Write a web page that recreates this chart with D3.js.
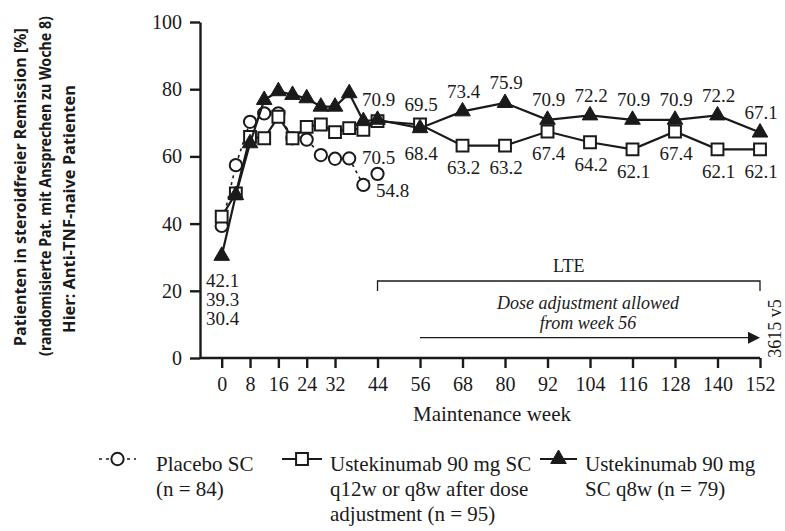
<!DOCTYPE html>
<html>
<head>
<meta charset="utf-8">
<script src="https://cdn.jsdelivr.net/npm/d3@7/dist/d3.min.js"></script>
<style>
  body { margin: 0; background: #fff; }
  svg text { font-family: "Liberation Serif", "Times New Roman", serif; fill: #1a1a1a; }
</style>
</head>
<body>
<div id="wrapper"></div>
<script>
// maintenance weeks and % in steroid-free remission
const weeks = [0, 4, 8, 12, 16, 20, 24, 28, 32, 36, 40, 44, 56, 68, 80, 92, 104, 116, 128, 140, 152]
const placebo = [39.3, 57.4, 70.3, 72.8, 72.8, 65.4, 65.0, 60.4, 59.3, 59.4, 51.5, 54.8]
const q12w = [42.1, 49.0, 65.8, 65.4, 71.8, 65.4, 68.8, 69.5, 67.2, 68.4, 67.9, 70.5, 69.5, 63.2, 63.2, 67.4, 64.2, 62.1, 67.4, 62.1, 62.1]
const q8w = [30.4, 48.5, 63.9, 76.8, 79.4, 78.3, 77.3, 74.8, 74.8, 78.8, 70.5, 70.9, 68.4, 73.4, 75.9, 70.9, 72.2, 70.9, 70.9, 72.2, 67.1]

const xTicks = [0, 8, 16, 24, 32, 44, 56, 68, 80, 92, 104, 116, 128, 140, 152]
const yTicks = [0, 20, 40, 60, 80, 100]
const labelWeeks = [44, 56, 68, 80, 92, 104, 116, 128, 140, 152]
const placeboLabelWeeks = [44]

const xTitle = "Maintenance week"
const yTitle = [
    "Patienten in steroidfreier Remission [%]",
    "(randomisierte Pat. mit Ansprechen zu Woche 8)",
    "Hier: Anti-TNF-naive Patienten"]
const legendLabels = [
    ["Placebo SC", "(n = 84)"],
    ["Ustekinumab 90 mg SC", "q12w or q8w after dose", "adjustment (n = 95)"],
    ["Ustekinumab 90 mg", "SC q8w (n = 79)"]]
const lteWeeks = [44, 152]
const doseWeeks = [56, 152]
const lteLabel = "LTE"
const doseNote = ["Dose adjustment allowed", "from week 56"]
const docCode = "3615 v5"

function drawChart() {
    let dimensions = {
        width: 785,
        height: 531,
        margin: { top: 22, right: 25, bottom: 173, left: 200 },
        padLeft: 21.7,
    }
    dimensions.boundedWidth = dimensions.width - dimensions.margin.left - dimensions.margin.right
    dimensions.boundedHeight = dimensions.height - dimensions.margin.top - dimensions.margin.bottom

    const ink = "#1a1a1a"
    const wrapper = d3.select("#wrapper")
        .append("svg")
            .attr("width", dimensions.width)
            .attr("height", dimensions.height)
    const bounds = wrapper.append("g")
        .attr("transform", `translate(${dimensions.margin.left},${dimensions.margin.top})`)

    const xScale = d3.scaleLinear()
        .domain([0, 152])
        .range([dimensions.padLeft, dimensions.padLeft + 538.3])
    const yScale = d3.scaleLinear()
        .domain([0, 100])
        .range([dimensions.boundedHeight, 0])

    // axes
    const yAxis = bounds.append("g")
        .call(d3.axisLeft(yScale).tickValues(yTicks).tickSize(10).tickSizeOuter(0).tickPadding(8))
    const xAxis = bounds.append("g")
        .attr("transform", `translate(0,${dimensions.boundedHeight})`)
        .call(d3.axisBottom(xScale).tickValues(xTicks).tickSize(10).tickSizeOuter(0).tickPadding(9))
    xAxis.select(".domain").attr("d", `M0,0H${xScale(152)}`)
    ;[xAxis, yAxis].forEach(ax => {
        ax.selectAll("path, line").attr("stroke", ink).attr("stroke-width", 2.4)
        ax.selectAll("text").attr("font-size", 20).attr("fill", ink)
            .style("font-family", "'Liberation Serif', serif")
    })

    bounds.append("text")
        .attr("x", 292)
        .attr("y", 399)
        .attr("text-anchor", "middle")
        .attr("font-size", 21)
        .text(xTitle)

    // y title, three bold sans lines, squeezed to the narrow original face
    const yTitlePos = [
        { x: 26, y: 187, len: 318 },
        { x: 51, y: 186, len: 340 },
        { x: 75, y: 209, len: 248 }]
    yTitle.forEach((t, i) => {
        const p = yTitlePos[i]
        const txt = wrapper.append("text")
            .attr("text-anchor", "middle")
            .style("font-family", "'Noto Sans', 'Open Sans', sans-serif")
            .attr("font-weight", "bold")
            .attr("font-size", 16)
            .text(t)
        const w = txt.node().getComputedTextLength()
        txt.attr("transform", `translate(${p.x},${p.y}) rotate(-90) scale(${p.len / w},1)`)
    })

    // series
    const series = [
        { key: "placebo", values: placebo, symbol: d3.symbolCircle, size: 118, fill: "#fff", dash: "3,4", width: 1.6 },
        { key: "q12w", values: q12w, symbol: d3.symbolSquare, size: 140, fill: "#fff", dash: null, width: 2.2 },
        { key: "q8w", values: q8w, symbol: d3.symbolTriangle, size: 105, fill: ink, dash: null, width: 2.2 },
    ]
    const lineGenerator = d3.line()
        .x(d => xScale(d.week))
        .y(d => yScale(d.value))

    series.forEach(s => {
        const pts = s.values.map((v, i) => ({ week: weeks[i], value: v }))
        const g = bounds.append("g")
        g.append("path")
            .attr("d", lineGenerator(pts))
            .attr("fill", "none")
            .attr("stroke", ink)
            .attr("stroke-width", s.width)
            .attr("stroke-dasharray", s.dash)
        g.selectAll(".mark")
            .data(pts)
            .join("path")
                .attr("transform", d => `translate(${xScale(d.week)},${yScale(d.value)})`)
                .attr("d", d3.symbol(s.symbol, s.size))
                .attr("fill", s.fill)
                .attr("stroke", ink)
                .attr("stroke-width", s.key === "q8w" ? 1 : 2)
    })

    // value labels: q8w above, q12w below, swapped at week 56 where the lines cross
    const fmt = d3.format(".1f")
    const valueAt = (vals, w) => vals[weeks.indexOf(w)]
    const addLabel = (w, v, dx, dy) => {
        bounds.append("text")
            .attr("x", xScale(w) + dx)
            .attr("y", yScale(v) + dy)
            .attr("dy", "0.34em")
            .attr("text-anchor", "middle")
            .attr("font-size", 19)
            .text(fmt(v))
    }
    labelWeeks.forEach(w => {
        const swap = w === 56
        addLabel(w, valueAt(q8w, w), 1, swap ? 25 : -20)
        addLabel(w, valueAt(q12w, w), 1, swap ? -20 : (w === 44 ? 36 : 22))
    })
    placeboLabelWeeks.forEach(w => addLabel(w, valueAt(placebo, w), 15, 17))

    // baseline values stacked under week 0
    const baseline = [q12w[0], placebo[0], q8w[0]]
    baseline.forEach((v, i) => {
        bounds.append("text")
            .attr("x", xScale(0) + 1)
            .attr("y", yScale(20) - 10 + i * 19)
            .attr("dy", "0.34em")
            .attr("text-anchor", "middle")
            .attr("font-size", 19)
            .text(fmt(v))
    })

    // LTE bracket
    const lteY = 259
    bounds.append("path")
        .attr("d", `M${xScale(lteWeeks[0])},${lteY + 10}V${lteY}H${xScale(lteWeeks[1])}V${lteY + 10}`)
        .attr("fill", "none")
        .attr("stroke", ink)
        .attr("stroke-width", 1.3)
    bounds.append("text")
        .attr("x", (xScale(lteWeeks[0]) + xScale(lteWeeks[1])) / 2)
        .attr("y", lteY - 9)
        .attr("text-anchor", "middle")
        .attr("font-size", 18)
        .text(lteLabel)

    // dose adjustment arrow
    const arrowY = 315.7
    const xEnd = xScale(doseWeeks[1])
    bounds.append("line")
        .attr("x1", xScale(doseWeeks[0]))
        .attr("x2", xEnd - 10)
        .attr("y1", arrowY)
        .attr("y2", arrowY)
        .attr("stroke", ink)
        .attr("stroke-width", 1.3)
    bounds.append("path")
        .attr("d", `M${xEnd},${arrowY}L${xEnd - 12},${arrowY - 6}L${xEnd - 12},${arrowY + 6}Z`)
        .attr("fill", ink)
    doseNote.forEach((t, i) => {
        bounds.append("text")
            .attr("x", (xScale(doseWeeks[0]) + xEnd) / 2 - 2)
            .attr("y", 287 + i * 19.5)
            .attr("text-anchor", "middle")
            .attr("font-size", 18)
            .attr("font-style", "italic")
            .text(t)
    })

    wrapper.append("text")
        .attr("transform", "translate(781,328.5) rotate(-90)")
        .attr("text-anchor", "middle")
        .attr("font-size", 18)
        .text(docCode)

    // legend
    const legend = wrapper.append("g")
    const legendLayout = [
        { x0: 99, x1: 136, tx: 156 },
        { x0: 282, x1: 322, tx: 330 },
        { x0: 540, x1: 577, tx: 585 }]
    const legendY = 459
    series.forEach((s, i) => {
        const L = legendLayout[i]
        legend.append("line")
            .attr("x1", L.x0).attr("x2", L.x1)
            .attr("y1", legendY).attr("y2", legendY)
            .attr("stroke", ink)
            .attr("stroke-width", s.width)
            .attr("stroke-dasharray", s.dash)
        legend.append("path")
            .attr("transform", `translate(${(L.x0 + L.x1) / 2},${legendY})`)
            .attr("d", d3.symbol(s.symbol, s.size))
            .attr("fill", s.fill)
            .attr("stroke", ink)
            .attr("stroke-width", s.key === "q8w" ? 1 : 2)
        legendLabels[i].forEach((t, j) => {
            legend.append("text")
                .attr("x", L.tx)
                .attr("y", 471 + j * 25)
                .attr("font-size", 21)
                .text(t)
        })
    })
}
drawChart()
</script>
</body>
</html>
